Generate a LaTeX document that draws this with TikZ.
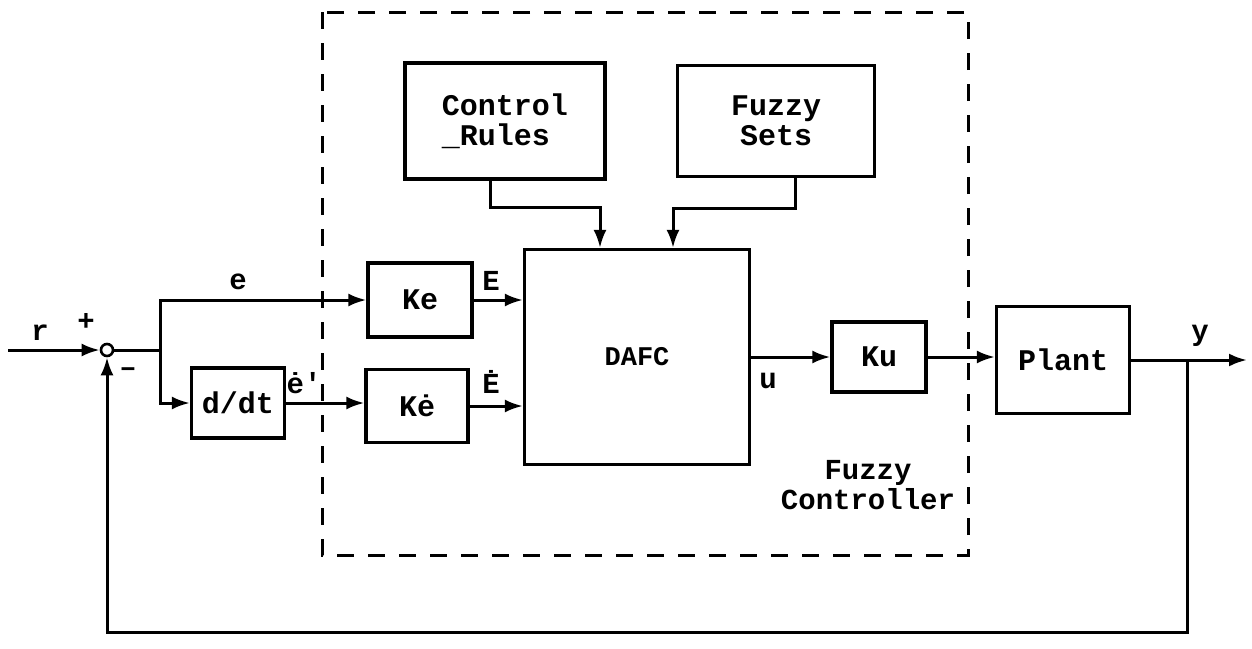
\documentclass[tikz,border=0pt]{standalone}
\usepackage{fontspec}
\setmainfont{Liberation Mono}[BoldFont={Liberation Mono Bold}]
\usetikzlibrary{arrows.meta}
\begin{document}
\begin{tikzpicture}[x=1pt,y=-1pt,
  blk/.style={draw,line width=3.2pt,inner sep=0pt,font=\fontsize{30}{30}\selectfont\bfseries},
  lbl/.style={font=\fontsize{29}{30}\selectfont\bfseries,inner sep=0pt},
  wire/.style={line width=3pt},
  arr/.style={wire,-{Latex[length=18pt,width=13pt]}}]
\useasboundingbox (0,0) rectangle (1252,648);
% dashed controller boundary
\draw[line width=3pt,dash pattern=on 17pt off 14pt] (322,12) rectangle (968,555);
% blocks
\node[blk,minimum width=200pt,minimum height=116pt,align=left] (cr) at (505,121) {Control\\\_Rules};
\node[blk,minimum width=197pt,minimum height=111pt,align=center] (fs) at (776,121) {Fuzzy\\Sets};
\node[blk,minimum width=225pt,minimum height=215pt,font=\fontsize{27}{30}\selectfont\bfseries] (dafc) at (637,357) {DAFC};
\node[blk,minimum width=104pt,minimum height=74pt] (ke) at (420,300) {Ke};
\node[blk,minimum width=102pt,minimum height=73pt] (ked) at (417,406) {Kė};
\node[blk,minimum width=93pt,minimum height=70pt] (ddt) at (238,403) {d/dt};
\node[blk,minimum width=94pt,minimum height=70pt] (ku) at (879,357) {Ku};
\node[blk,minimum width=133pt,minimum height=107pt] (plant) at (1063,360) {Plant};
% summing junction
\node[draw,circle,line width=2.6pt,minimum size=12pt,inner sep=0pt] (sum) at (107,350) {};
\coordinate (rin) at (8,350);
\coordinate (br) at (160,350);
\coordinate (yout) at (1247,360);
\coordinate (tap) at (1187,360);
\coordinate (fb) at (1187,632);
\coordinate (fbl) at (107,632);
% input
\draw[arr] (rin) -- (sum.west);
\node[lbl] at (40,333) {r};
\node[lbl] at (86,322) {+};
\node[lbl] at (128,372) {–};
% branch
\draw[wire] (sum.east) -- (br);
\draw[arr] (br) |- (ke.west);
\draw[arr] (br) |- (ddt.west);
\node[lbl] at (238,282) {e};
\draw[arr] (ddt.east) -- (ked.west |- ddt.east);
\node[lbl] at (304,383) {ė′};
% gains to DAFC
\draw[arr] (ke.east) -- (dafc.west |- ke.east);
\node[lbl] at (491,281) {E};
\draw[arr] (ked.east) -- (dafc.west |- ked.east);
\node[lbl] at (491,382) {Ė};
% rule and set inputs
\coordinate (c1) at (490,207);
\coordinate (c2) at (795,208);
\draw[arr] (cr.south -| c1) -- (c1) -| ([xshift=-37pt]dafc.north);
\draw[arr] (fs.south -| c2) -- (c2) -| ([xshift=36pt]dafc.north);
% output chain
\draw[arr] (dafc.east |- ku.west) -- (ku.west);
\node[lbl] at (768,381) {u};
\draw[arr] (ku.east) -- (plant.west |- ku.east);
\draw[arr] (plant.east |- yout) -- (yout);
\node[lbl] at (1200,336) {y};
% feedback
\draw[arr] (tap) -- (fb) -- (fbl) -- (sum.south);
% caption
\node[lbl,align=center] at (868,485) {Fuzzy\\Controller};
\end{tikzpicture}
\end{document}
